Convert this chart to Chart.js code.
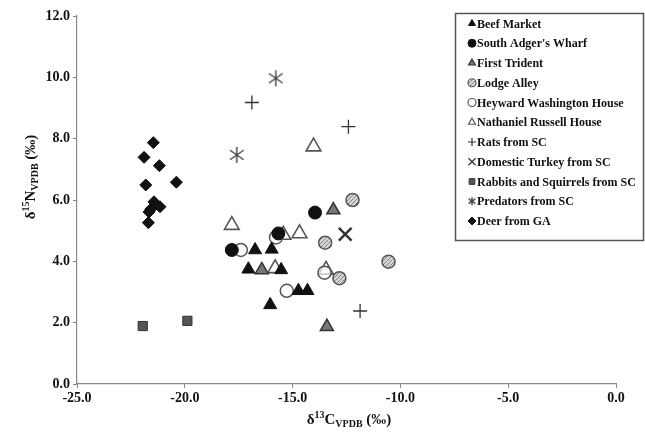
<!DOCTYPE html>
<html>
<head>
<meta charset="utf-8">
<script src="https://cdn.jsdelivr.net/npm/chart.js@4/dist/chart.umd.min.js"></script>
<style>
  html, body { margin: 0; padding: 0; background: #fff; }
  #wrap { width: 645px; height: 432px; position: relative; }
</style>
</head>
<body>
<div id="wrap"><canvas id="iso-chart" width="645" height="432"></canvas></div>
<script>
// d13C (x) / d15N (y) values
const beefMarketX = [-16.74, -15.97, -17.05, -14.73, -14.31, -16.04, -15.53];
const beefMarketY = [4.37, 4.39, 3.74, 3.04, 3.04, 2.58, 3.72];
const southAdgerX = [-13.96, -17.82, -15.66];
const southAdgerY = [5.59, 4.37, 4.91];
const firstTridentX = [-16.43, -13.11, -13.41];
const firstTridentY = [3.72, 5.67, 1.87];
const lodgeAlleyX = [-12.22, -13.49, -10.55, -12.83];
const lodgeAlleyY = [6.0, 4.61, 3.99, 3.45];
const heywardX = [-17.40, -15.27, -15.77, -13.52];
const heywardY = [4.37, 3.04, 4.78, 3.63];
const russellX = [-14.03, -17.82, -15.43, -14.68, -15.81, -13.45];
const russellY = [7.74, 5.18, 4.86, 4.91, 3.77, 3.72];
const ratsX = [-16.89, -12.41, -11.87];
const ratsY = [9.18, 8.39, 2.38];
const turkeyX = [-12.56];
const turkeyY = [4.88];
const rabbitsX = [-21.95, -19.88];
const rabbitsY = [1.89, 2.06];
const predatorsX = [-15.78, -17.59];
const predatorsY = [9.97, 7.47];
const deerX = [-21.46, -21.89, -21.18, -21.81, -20.39, -21.43, -21.15, -21.58, -21.66, -21.69];
const deerY = [7.87, 7.39, 7.12, 6.49, 6.58, 5.94, 5.78, 5.70, 5.61, 5.26];

const xTicks = [-25, -20, -15, -10, -5, 0];
const yTicks = [0, 2, 4, 6, 8, 10, 12];

const serif = "'Liberation Serif', 'DejaVu Serif', serif";

function pts(xs, ys) {
    return xs.map((x, i) => ({ x: x, y: ys[i] }));
}

// hatched fill for Lodge Alley
function makeHatch() {
    const c = document.createElement('canvas');
    c.width = 4; c.height = 4;
    const g = c.getContext('2d');
    g.fillStyle = '#d4d4d4';
    g.fillRect(0, 0, 4, 4);
    g.strokeStyle = '#8a8a8a';
    g.lineWidth = 1;
    g.beginPath();
    g.moveTo(0, 4); g.lineTo(4, 0);
    g.moveTo(-1, 1); g.lineTo(1, -1);
    g.moveTo(3, 5); g.lineTo(5, 3);
    g.stroke();
    return document.getElementById('iso-chart').getContext('2d').createPattern(c, 'repeat');
}

// asterisk used for predators
function makeAsterisk(size) {
    const c = document.createElement('canvas');
    c.width = size; c.height = size;
    const g = c.getContext('2d');
    const m = size / 2, r = size / 2 - 1;
    g.strokeStyle = '#444';
    g.lineWidth = 1.4;
    g.beginPath();
    g.moveTo(m, m - r); g.lineTo(m, m + r);
    g.moveTo(m - r * 0.85, m - r * 0.6); g.lineTo(m + r * 0.85, m + r * 0.6);
    g.moveTo(m + r * 0.85, m - r * 0.6); g.lineTo(m - r * 0.85, m + r * 0.6);
    g.stroke();
    return c;
}

const hatch = makeHatch();
const starBig = makeAsterisk(18);
const starSmall = makeAsterisk(10);

const datasets = [
    { label: 'Beef Market', data: pts(beefMarketX, beefMarketY), pointStyle: 'triangle', radius: 7.5, backgroundColor: '#111', borderColor: '#111', borderWidth: 1 },
    { label: "South Adger's Wharf", data: pts(southAdgerX, southAdgerY), pointStyle: 'circle', radius: 6.5, backgroundColor: '#111', borderColor: '#111', borderWidth: 1 },
    { label: 'First Trident', data: pts(firstTridentX, firstTridentY), pointStyle: 'triangle', radius: 7.5, backgroundColor: '#777', borderColor: '#333', borderWidth: 1.5 },
    { label: 'Lodge Alley', data: pts(lodgeAlleyX, lodgeAlleyY), pointStyle: 'circle', radius: 6.5, backgroundColor: hatch, borderColor: '#555', borderWidth: 1.5 },
    { label: 'Heyward Washington House', data: pts(heywardX, heywardY), pointStyle: 'circle', radius: 6.5, backgroundColor: 'rgba(255,255,255,0.7)', borderColor: '#555', borderWidth: 1.5 },
    { label: 'Nathaniel Russell House', data: pts(russellX, russellY), pointStyle: 'triangle', radius: 8.5, backgroundColor: 'rgba(255,255,255,0.7)', borderColor: '#555', borderWidth: 1.6 },
    { label: 'Rats from SC', data: pts(ratsX, ratsY), pointStyle: 'cross', radius: 7, backgroundColor: '#333', borderColor: '#333', borderWidth: 1.3 },
    { label: 'Domestic Turkey from SC', data: pts(turkeyX, turkeyY), pointStyle: 'crossRot', radius: 9, backgroundColor: '#333', borderColor: '#333', borderWidth: 2.5 },
    { label: 'Rabbits and Squirrels from SC', data: pts(rabbitsX, rabbitsY), pointStyle: 'rect', radius: 6.5, backgroundColor: '#555', borderColor: '#333', borderWidth: 1 },
    { label: 'Predators from SC', data: pts(predatorsX, predatorsY), pointStyle: starBig, radius: 9, backgroundColor: '#444', borderColor: '#444', borderWidth: 1 },
    { label: 'Deer from GA', data: pts(deerX, deerY), pointStyle: 'rectRot', radius: 6, backgroundColor: '#111', borderColor: '#111', borderWidth: 1 }
];

// axis titles with super/subscripts
function drawRich(ctx, parts, cx, cy, rot) {
    ctx.save();
    ctx.translate(cx, cy);
    if (rot) ctx.rotate(rot);
    let w = 0;
    parts.forEach(p => {
        ctx.font = 'bold ' + (p.k === 'n' ? 15 : 10) + 'px ' + serif;
        p.w = ctx.measureText(p.t).width;
        w += p.w;
    });
    let x = -w / 2;
    ctx.fillStyle = '#111';
    ctx.textBaseline = 'alphabetic';
    ctx.textAlign = 'left';
    parts.forEach(p => {
        ctx.font = 'bold ' + (p.k === 'n' ? 15 : 10) + 'px ' + serif;
        const dy = p.k === 'sup' ? -6 : (p.k === 'sub' ? 3 : 0);
        ctx.fillText(p.t, x, 5 + dy);
        x += p.w;
    });
    ctx.restore();
}

const titlesPlugin = {
    id: 'titles',
    afterDraw(chart) {
        const ctx = chart.ctx;
        drawRich(ctx, [{ t: 'δ', k: 'n' }, { t: '13', k: 'sup' }, { t: 'C', k: 'n' }, { t: 'VPDB', k: 'sub' }, { t: ' (‰)', k: 'n' }], 349, 419, 0);
        drawRich(ctx, [{ t: 'δ', k: 'n' }, { t: '15', k: 'sup' }, { t: 'N', k: 'n' }, { t: 'VPDB', k: 'sub' }, { t: ' (‰)', k: 'n' }], 30, 177, -Math.PI / 2);
    }
};

// boxed legend sitting over the top right of the plot
const boxLegend = {
    id: 'boxLegend',
    afterDraw(chart) {
        const ctx = chart.ctx;
        ctx.save();
        ctx.fillStyle = '#fff';
        ctx.fillRect(455.5, 13.5, 188, 227);
        ctx.strokeStyle = '#555';
        ctx.lineWidth = 1.5;
        ctx.strokeRect(455.5, 13.5, 188, 227);
        chart.data.datasets.forEach((ds, i) => {
            const y = 23.5 + i * 19.75;
            const x = 472;
            if (ds.pointStyle instanceof HTMLCanvasElement) {
                ctx.drawImage(starSmall, x - 5, y - 5);
            } else {
                ctx.fillStyle = ds.backgroundColor;
                ctx.strokeStyle = ds.borderColor;
                ctx.lineWidth = Math.min(ds.borderWidth, 1.2);
                Chart.helpers.drawPoint(ctx, {
                    pointStyle: ds.pointStyle,
                    radius: ds.pointStyle === 'crossRot' ? 5 : 4,
                    rotation: 0,
                    borderWidth: Math.min(ds.borderWidth, 1.2)
                }, x, y);
            }
            ctx.fillStyle = '#111';
            ctx.font = 'bold 12px ' + serif;
            ctx.textAlign = 'left';
            ctx.textBaseline = 'middle';
            ctx.fillText(ds.label, x + 5, y + 1);
        });
        ctx.restore();
    }
};

const ctx = document.getElementById('iso-chart').getContext('2d');
new Chart(ctx, {
    type: 'scatter',
    data: { datasets: datasets },
    options: {
        responsive: false,
        animation: false,
        layout: { padding: { left: 0, right: 29, top: 16, bottom: 0 } },
        plugins: {
            legend: { display: false },
            tooltip: { enabled: false }
        },
        scales: {
            x: {
                type: 'linear',
                min: -25,
                max: 0,
                afterBuildTicks: s => { s.ticks = xTicks.map(v => ({ value: v })); },
                afterFit: s => { s.height = 48; },
                grid: { display: true, drawOnChartArea: false, tickLength: 4, color: '#888' },
                border: { color: '#888', width: 1.2 },
                ticks: {
                    color: '#111',
                    padding: 2,
                    maxRotation: 0,
                    font: { family: serif, size: 14, weight: 'bold' },
                    callback: v => v.toFixed(1)
                }
            },
            y: {
                type: 'linear',
                min: 0,
                max: 12,
                afterBuildTicks: s => { s.ticks = yTicks.map(v => ({ value: v })); },
                afterFit: s => { s.width = 77; },
                grid: { display: true, drawOnChartArea: false, tickLength: 4, color: '#888' },
                border: { color: '#888', width: 1.2 },
                ticks: {
                    color: '#111',
                    padding: 3,
                    font: { family: serif, size: 14, weight: 'bold' },
                    callback: v => v.toFixed(1)
                }
            }
        }
    },
    plugins: [titlesPlugin, boxLegend]
});
</script>
</body>
</html>
